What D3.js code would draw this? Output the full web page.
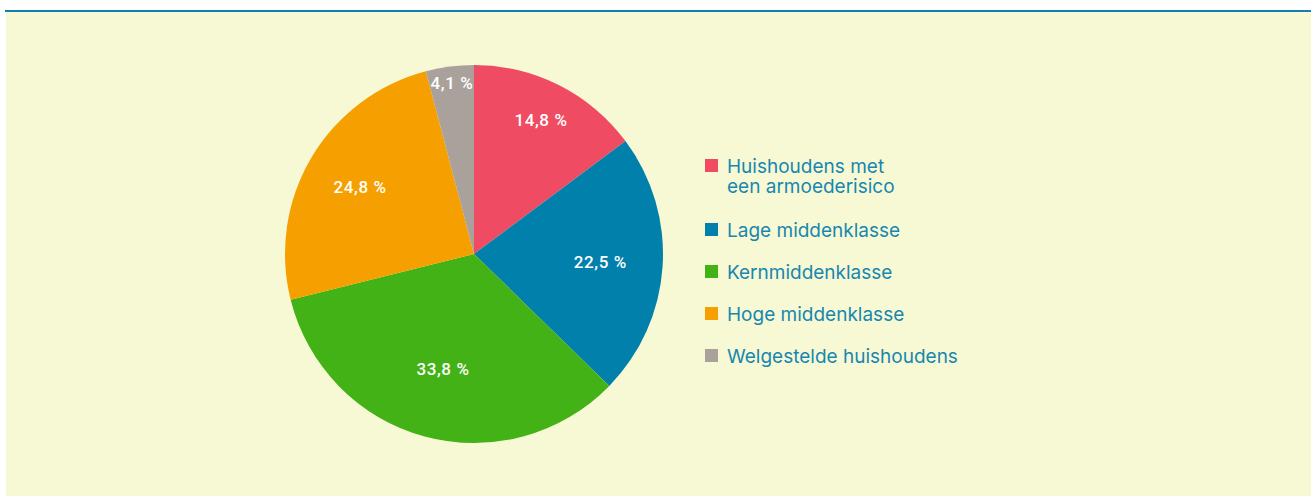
<!DOCTYPE html>
<html>
<head>
<meta charset="utf-8">
<script src="https://cdn.jsdelivr.net/npm/d3@7"></script>
<style>
  body { margin: 0; background: #fff; }
  svg { display: block; }
</style>
</head>
<body>
<div id="chart"></div>
<script>
// data
const categories = [
    ["Huishoudens met", "een armoederisico"],
    ["Lage middenklasse"],
    ["Kernmiddenklasse"],
    ["Hoge middenklasse"],
    ["Welgestelde huishoudens"]
];
const values = [14.8, 22.5, 33.8, 24.8, 4.1];
const colors = ["#ef4c64", "#0180ab", "#43b216", "#f5a000", "#aba19c"];

// config
const width = 1311;
const height = 497;
const cx = 474, cy = 254, radius = 189;
// label distance from center, as a share of the radius (per slice)
const labelPos = [0.79, 0.67, 0.63, 0.70, 0.91];

const fmt = v => d3.format(".1f")(v).replace(".", ",") + " %";

const svg = d3.select("#chart")
    .append("svg")
    .attr("width", width)
    .attr("height", height);

// panel
svg.append("rect")
    .attr("x", 6).attr("y", 12)
    .attr("width", width - 6).attr("height", 484)
    .attr("fill", "#f7f9d4");
svg.append("line")
    .attr("x1", 5).attr("x2", width)
    .attr("y1", 11).attr("y2", 11)
    .attr("stroke", "#1380b5")
    .attr("stroke-width", 2);

const pie = d3.pie().sort(null).value(d => d);
const arcs = pie(values);
const arc = d3.arc().innerRadius(0).outerRadius(radius);

const g = svg.append("g").attr("transform", `translate(${cx},${cy})`);

g.selectAll("path")
    .data(arcs)
    .enter().append("path")
    .attr("d", arc)
    .attr("fill", (d, i) => colors[i]);

g.selectAll("text")
    .data(arcs)
    .enter().append("text")
    .attr("transform", (d, i) => {
        const r = radius * labelPos[i];
        const c = d3.arc().innerRadius(r).outerRadius(r).centroid(d);
        return `translate(${c})`;
    })
    .attr("text-anchor", "middle")
    .attr("dy", "0.35em")
    .attr("fill", "#fff")
    .style("font-family", "Roboto, sans-serif")
    .style("font-weight", 500)
    .style("font-size", "17px")
    .style("letter-spacing", "0.6px")
    .text(d => fmt(d.data));

// legend (first item has two lines)
const item = svg.append("g").selectAll("g")
    .data(categories)
    .enter().append("g")
    .attr("transform", (d, i) => `translate(705,${i === 0 ? 173 : 237 + (i - 1) * 42})`);

item.append("rect")
    .attr("x", 0).attr("y", -14)
    .attr("width", 13).attr("height", 13)
    .attr("fill", (d, i) => colors[i]);

item.append("text")
    .attr("y", 0)
    .attr("fill", "#1787b0")
    .style("font-family", "Inter, sans-serif")
    .style("font-size", "19px")
    .selectAll("tspan")
    .data(d => d)
    .enter().append("tspan")
    .attr("x", 22)
    .attr("dy", (d, j) => j === 0 ? 0 : 20)
    .text(d => d);
</script>
</body>
</html>
